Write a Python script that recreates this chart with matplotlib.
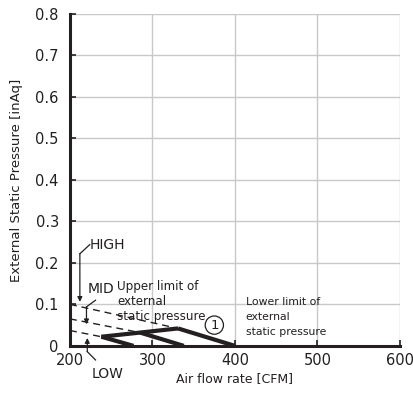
import matplotlib
import matplotlib.pyplot as plt
from matplotlib.ticker import FuncFormatter

matplotlib.use("Agg")

# ── Data ────────────────────────────────────────────────────────────────────
x_ticks = [200, 300, 400, 500, 600]
y_ticks = [0, 0.1, 0.2, 0.3, 0.4, 0.5, 0.6, 0.7, 0.8]

# operating range (thick lines)
upper_limit_x = [238, 285, 331]
upper_limit_y = [0.022, 0.032, 0.042]
high_x = [331, 400]
high_y = [0.042, 0.0]
mid_x = [285, 338]
mid_y = [0.032, 0.0]
low_x = [238, 277]
low_y = [0.022, 0.0]

# fan curves above the upper limit (dashed)
high_dash_x = [200, 331]
high_dash_y = [0.100, 0.042]
mid_dash_x = [200, 285]
mid_dash_y = [0.065, 0.032]
low_dash_x = [200, 238]
low_dash_y = [0.037, 0.022]

INK = "#231f20"
GRID = "#c8c8c8"

fig = plt.figure(figsize=(4.14, 3.98), dpi=100)
ax = fig.add_axes([0.169, 0.131, 0.797, 0.834])

ax.set_xlim(200, 600)
ax.set_ylim(0, 0.8)
ax.set_xticks(x_ticks)
ax.set_yticks(y_ticks)
ax.yaxis.set_major_formatter(FuncFormatter(lambda v, _: "0" if v == 0 else f"{v:.1f}"))
ax.grid(True, color=GRID, linewidth=1.0)
ax.set_axisbelow(True)

for side in ("top", "right"):
    ax.spines[side].set_visible(False)
for side in ("left", "bottom"):
    ax.spines[side].set_linewidth(2.2)
    ax.spines[side].set_color(INK)
ax.tick_params(direction="in", length=4, width=1.2, colors=INK, labelsize=10.5)
ax.tick_params(axis="y", pad=8)
ax.tick_params(axis="x", pad=5)

ax.set_xlabel("Air flow rate [CFM]", fontsize=9, color=INK, labelpad=3)
ax.set_ylabel("External Static Pressure [inAq]", fontsize=9.5, color=INK, labelpad=9)

# ── Curves ──────────────────────────────────────────────────────────────────
dash = dict(color=INK, linewidth=1.0, linestyle=(0, (5, 3.5)))
ax.plot(high_dash_x, high_dash_y, **dash)
ax.plot(mid_dash_x, mid_dash_y, **dash)
ax.plot(low_dash_x, low_dash_y, **dash)

thick = dict(color=INK, linewidth=3.0, solid_capstyle="butt", solid_joinstyle="miter")
ax.plot(upper_limit_x, upper_limit_y, **thick)
ax.plot(high_x, high_y, **thick)
ax.plot(mid_x, mid_y, **thick)
ax.plot(low_x, low_y, **thick)

# ── Labels with pointer arrows ──────────────────────────────────────────────
arrow = dict(arrowstyle="-|>", color=INK, lw=0.9, mutation_scale=7, shrinkA=0, shrinkB=0)
line_kw = dict(color=INK, linewidth=0.9, clip_on=False)

ax.text(224, 0.243, "HIGH", fontsize=10, color=INK, ha="left", va="center")
ax.plot([224, 212], [0.244, 0.222], **line_kw)
ax.annotate("", xy=(212, 0.106), xytext=(212, 0.222), arrowprops=arrow)

ax.text(222, 0.137, "MID", fontsize=10, color=INK, ha="left", va="center")
ax.plot([231, 220], [0.110, 0.094], **line_kw)
ax.annotate("", xy=(220, 0.052), xytext=(220, 0.094), arrowprops=arrow)

ax.text(226, -0.068, "LOW", fontsize=10, color=INK, ha="left", va="center")
ax.plot([231, 221], [-0.034, -0.014], **line_kw)
ax.annotate("", xy=(221, 0.019), xytext=(221, -0.014), arrowprops=arrow,
            annotation_clip=False)

ax.text(257, 0.107, "Upper limit of\nexternal\nstatic pressure", fontsize=8.6,
        color=INK, ha="left", va="center", linespacing=1.2)
ax.text(375, 0.050, "1", fontsize=9.5, color=INK, ha="center", va="center",
        bbox=dict(boxstyle="circle,pad=0.2", fc="none", ec=INK, lw=0.9))

ax.text(413, 0.069, "Lower limit of\nexternal\nstatic pressure", fontsize=7.8,
        color=INK, ha="left", va="center", linespacing=1.6)

fig.savefig("out.png", dpi=100)
